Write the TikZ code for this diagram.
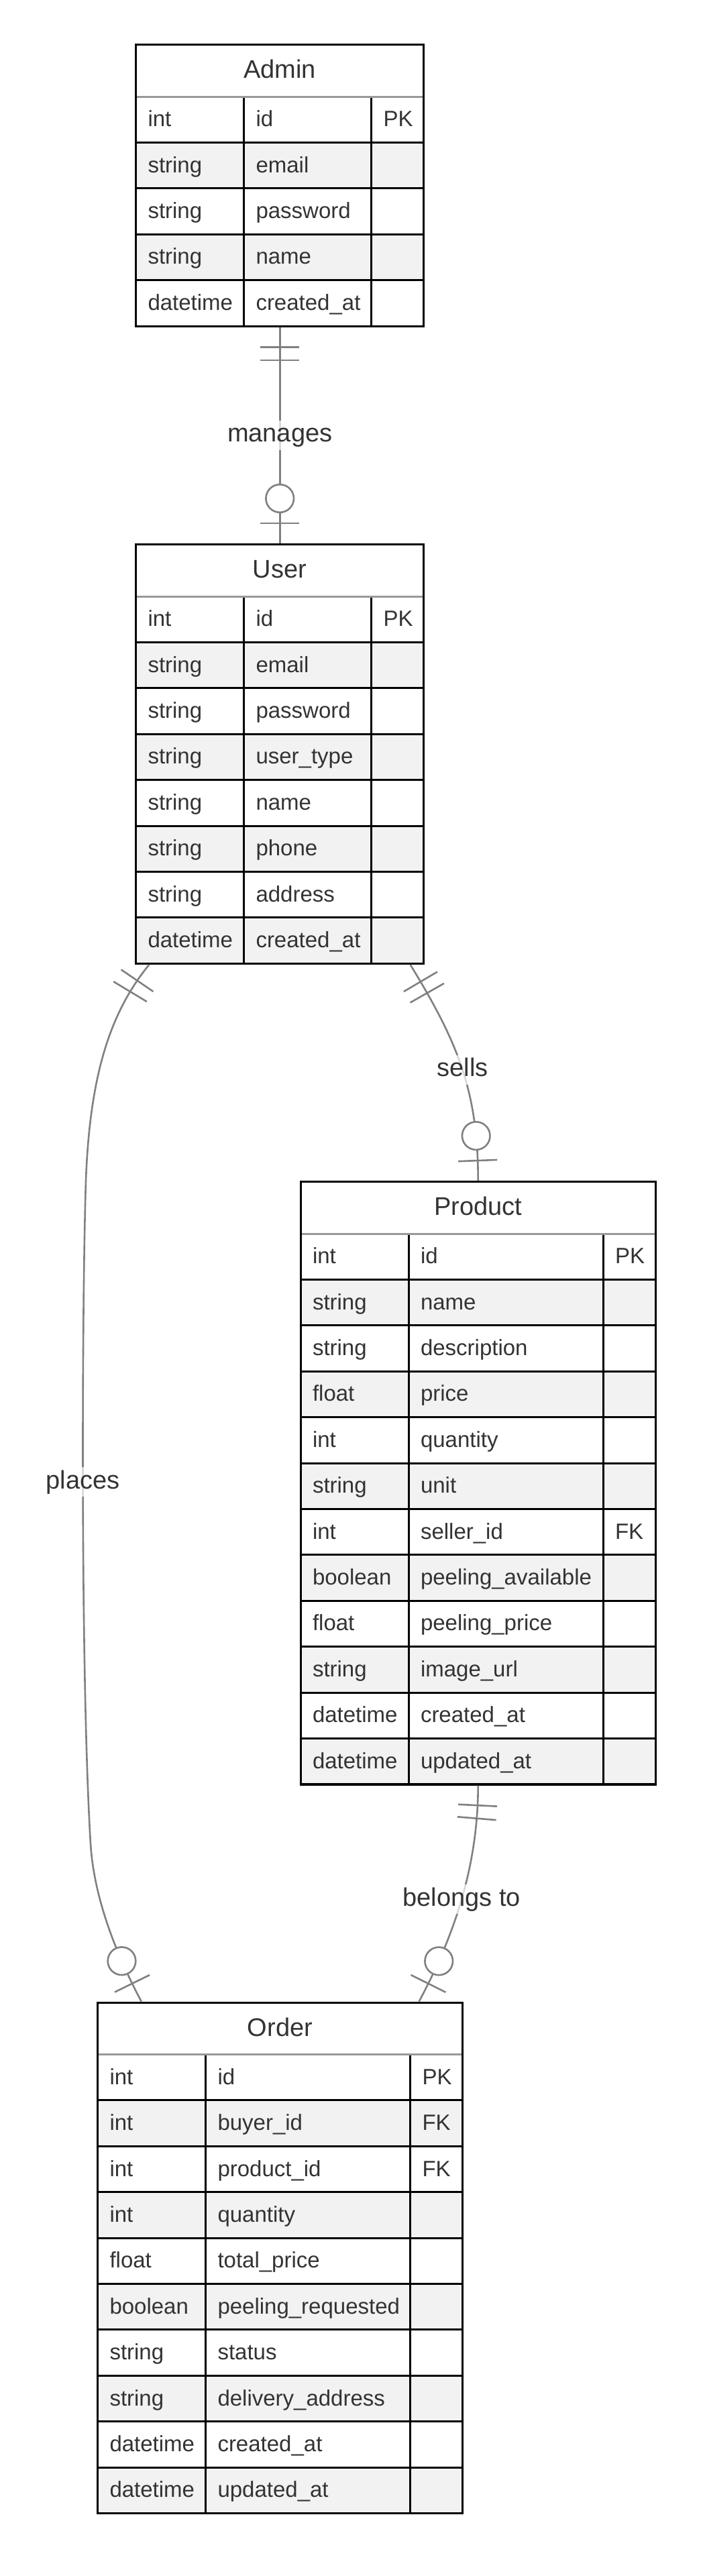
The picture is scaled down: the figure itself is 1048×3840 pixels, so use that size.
\documentclass[tikz,border=0pt]{standalone}
\usepackage{fontspec}
\setmainfont{Liberation Sans}
\usepackage{xcolor}
\usepackage{tikz}
\usetikzlibrary{positioning,decorations.markings}
\definecolor{c_text}{HTML}{333333}
\definecolor{c_line}{HTML}{808080}
\definecolor{c_sep}{HTML}{999999}
\definecolor{c_even}{HTML}{F2F2F2}
\tikzset{ent-head/.style={rectangle, anchor=north west, draw=c_sep, line width=1.5pt, fill=white, minimum height=38.75pt, inner sep=0pt, text height=13pt, text depth=1.5pt, text=c_text, font=\fontsize{19}{22}\selectfont},
ent-cell/.style={rectangle, anchor=north west, draw=black, line width=1.5pt, minimum height=34.2pt, inner xsep=9pt, inner ysep=0pt, text height=12pt, text depth=1.5pt, align=left, text=c_text, font=\fontsize{16.5}{19}\selectfont},
ent-box/.style={rectangle, anchor=north west, draw=black, line width=1.7pt, inner sep=0pt},
rel/.style={draw=c_line, line width=1.3pt},
rel-label/.style={fill=white, fill opacity=0.7, text opacity=1, text=c_text, inner xsep=1pt, inner ysep=2pt, text height=14pt, text depth=4pt, font=\fontsize{19}{22}\selectfont},
one-start/.style={postaction={decorate, decoration={markings,
  mark=at position 14.75pt with {\draw[c_line, line width=1.3pt] (0,-14.5pt) -- (0,14.5pt);},
  mark=at position 24.5pt with {\draw[c_line, line width=1.3pt] (0,-14.5pt) -- (0,14.5pt);}}}},
zero-one-end/.style={postaction={decorate, decoration={markings,
  mark=at position -33.5pt with {\draw[c_line, line width=1.3pt, fill=white] (0,0) circle (10.4pt);},
  mark=at position -15pt with {\draw[c_line, line width=1.3pt] (0,-14.5pt) -- (0,14.5pt);}}}}}

% #1 name, #2 title, #3 left, #4 top, #5 width of the name column, #6 rows, #7 attributes
\newcommand{\erentity}[7]{
  \pgfmathsetmacro{\entw}{(161+#5+78)*0.5}
  \pgfmathsetmacro{\enth}{(77.5+#6*68.4)*0.5}
  \pgfmathsetmacro{\namew}{(#5-36)*0.5}
  \foreach \ty/\nm/\ky [count=\i] in {#7} {
    \pgfmathsetmacro{\rowy}{#4+77.5+(\i-1)*68.4}
    \ifodd\i\relax \def\rowfill{white}\else \def\rowfill{c_even}\fi
    \node[ent-cell, fill=\rowfill, text width=62.5pt] (#1-\i-type) at (#3,\rowy) {\ty};
    \node[ent-cell, fill=\rowfill, text width=\namew pt] (#1-\i-name) at ({#3+161},\rowy) {\mbox{\nm}};
    \node[ent-cell, fill=\rowfill, text width=21pt] (#1-\i-key) at ({#3+161+#5},\rowy) {\ky};
  }
  \node[ent-head, minimum width=\entw pt] (#1-head) at (#3,#4) {#2};
  \node[ent-box, minimum width=\entw pt, minimum height=\enth pt] (#1) at (#3,#4) {};
}

\begin{document}
\begin{tikzpicture}[x=0.5pt, y=-0.5pt]
\path[use as bounding box, fill=white] (0,0) rectangle (1048,3840);
\erentity{admin}{Admin}{201}{65}{190}{5}{int/id/PK, string/email/{}, string/password/{}, string/name/{}, datetime/created\_at/{}}
\erentity{user}{User}{201}{810}{190}{8}{int/id/PK, string/email/{}, string/password/{}, string/user\_type/{}, string/name/{}, string/phone/{}, string/address/{}, datetime/created\_at/{}}
\erentity{product}{Product}{446.5}{1760}{290}{12}{int/id/PK, string/name/{}, string/description/{}, float/price/{}, int/quantity/{}, string/unit/{}, int/seller\_id/FK, boolean/peeling\_available/{}, float/peeling\_price/{}, string/image\_url/{}, datetime/created\_at/{}, datetime/updated\_at/{}}
\erentity{order}{Order}{144}{2983.5}{305}{10}{int/id/PK, int/buyer\_id/FK, int/product\_id/FK, int/quantity/{}, float/total\_price/{}, boolean/peeling\_requested/{}, string/status/{}, string/delivery\_address/{}, datetime/created\_at/{}, datetime/updated\_at/{}}
\coordinate (places-a) at (128,1760);
\coordinate (places-b) at (135,2748);
\draw[rel, one-start, zero-one-end] (admin.south) -- node[rel-label] (l-manages) {manages} (user.north);
\draw[rel, one-start, zero-one-end] ([xshift=97.25pt]user.south) .. controls +(73,119) and +(0,-130) .. (product.north) node[rel-label, pos=0.5] (l-sells) {sells};
\draw[rel, one-start, zero-one-end] ([xshift=-97.5pt]user.south) .. controls +(-57,70) and +(6,-160) .. (places-a) .. controls +(-6,190) and +(-15,-248) .. (places-b) node[rel-label, pos=0.48] (l-places) {places} .. controls +(4.5,75) and +(-42,-79) .. ([xshift=-103.5pt]order.north);
\draw[rel, one-start, zero-one-end] (product.south) .. controls +(0,120) and +(52,-97) .. ([xshift=103.5pt]order.north) node[rel-label, pos=0.5] (l-belongs) {belongs to};
\end{tikzpicture}
\end{document}
